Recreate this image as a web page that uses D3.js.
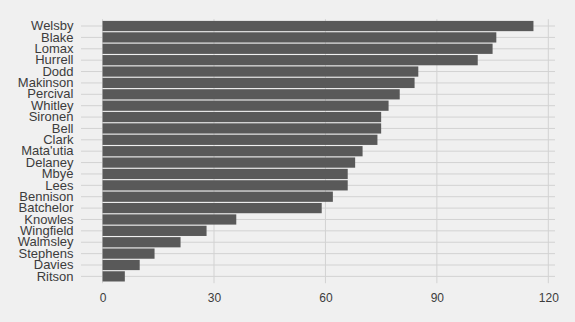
<!DOCTYPE html>
<html>
<head>
<meta charset="utf-8">
<script src="https://cdn.jsdelivr.net/npm/d3@7"></script>
<style>
  body { margin: 0; background: #f0f0f0; }
  svg { display: block; }
  .lbl { font-family: "Liberation Sans", Arial, sans-serif; fill: #3c3c3c; }
  .y-axis .lbl { font-size: 13px; }
  .x-axis .lbl { font-size: 12px; }
</style>
</head>
<body>
<svg id="chart" width="575" height="322"></svg>
<script>
// Players, sorted from top to bottom
const names = ["Welsby", "Blake", "Lomax", "Hurrell", "Dodd", "Makinson", "Percival",
  "Whitley", "Sironen", "Bell", "Clark", "Mata'utia", "Delaney", "Mbye", "Lees",
  "Bennison", "Batchelor", "Knowles", "Wingfield", "Walmsley", "Stephens", "Davies", "Ritson"];
const values = [116, 106, 105, 101, 85, 84, 80, 77, 75, 75, 74, 70, 68, 66, 66,
  62, 59, 36, 28, 21, 14, 10, 6];
const xTicks = [0, 30, 60, 90, 120];

const svg = d3.select("#chart");
const margin = { top: 19.2, right: 20, bottom: 38.8, left: 81 };
const width = 575 - margin.left - margin.right;
const height = 322 - margin.top - margin.bottom;
const ctr = svg.append("g").attr("transform", `translate(${margin.left}, ${margin.top})`);

// Scales (5% expansion like ggplot)
const vMax = d3.max(values);
const pad = vMax * 0.05;
const xScale = d3.scaleLinear().domain([-pad, vMax + pad]).range([0, width]);

const yScale = d3.scaleBand()
  .domain(names)
  .range([0, height])
  .paddingInner(0.1)
  .paddingOuter(0.15);

// Grid lines
ctr.selectAll(".hgrid")
  .data(names)
  .join("line")
  .attr("x1", 0)
  .attr("x2", width)
  .attr("y1", (d) => yScale(d) + yScale.bandwidth() / 2)
  .attr("y2", (d) => yScale(d) + yScale.bandwidth() / 2)
  .attr("stroke", "#d2d2d2")
  .attr("stroke-width", 1);

ctr.selectAll(".vgrid")
  .data(xTicks)
  .join("line")
  .attr("x1", (d) => xScale(d))
  .attr("x2", (d) => xScale(d))
  .attr("y1", 0)
  .attr("y2", height)
  .attr("stroke", "#d2d2d2")
  .attr("stroke-width", 1);

// Bars
ctr.selectAll(".bar")
  .data(names)
  .join("rect")
  .attr("x", xScale(0))
  .attr("y", (d) => yScale(d))
  .attr("width", (d, i) => xScale(values[i]) - xScale(0))
  .attr("height", yScale.bandwidth())
  .attr("fill", "#595959");

// Axes
const yAxis = d3.axisLeft(yScale).tickSize(0).tickPadding(7.5);
ctr.append("g").classed("y-axis", true).call(yAxis);

const xAxis = d3.axisBottom(xScale).tickValues(xTicks).tickSize(0).tickPadding(10);
ctr.append("g").classed("x-axis", true).attr("transform", `translate(0, ${height})`).call(xAxis);

ctr.selectAll(".domain").remove();
ctr.selectAll(".tick text")
  .attr("class", "lbl")
  .attr("font-family", null)
  .attr("font-size", null);
</script>
</body>
</html>
